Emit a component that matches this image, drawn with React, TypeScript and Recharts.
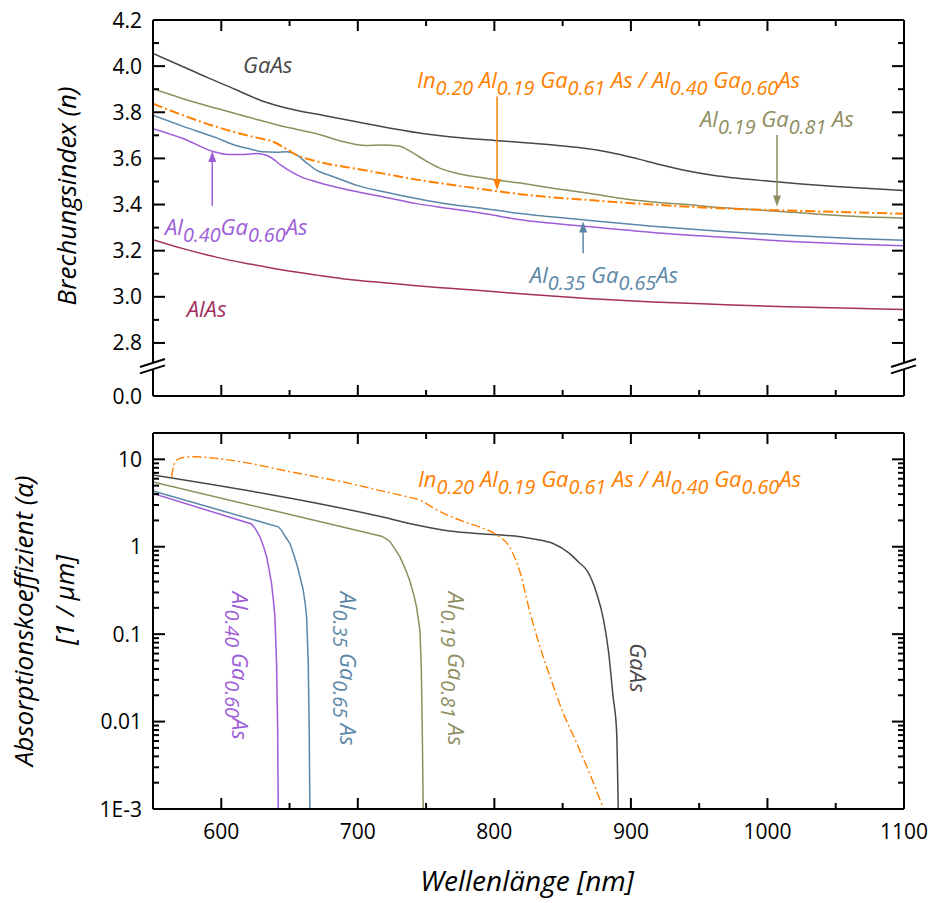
import React from 'react';
import { LineChart, Line, XAxis, YAxis, ReferenceDot, ReferenceLine } from 'recharts';

const FONT = "'Open Sans', 'DejaVu Sans', sans-serif";

// ---------------- colours ----------------
const COL = {
  gaas: '#474747',
  olive: '#8e8e5f',
  orange: '#ff8000',
  blue: '#5a87a8',
  purple: '#9d5dd8',
  alas: '#a3305f',
};

// ---------------- axis values ----------------
const wavelengthTicks = [550, 600, 650, 700, 750, 800, 850, 900, 950, 1000, 1050, 1100];
const indexTicks = [2.8, 2.9, 3.0, 3.1, 3.2, 3.3, 3.4, 3.5, 3.6, 3.7, 3.8, 3.9, 4.0, 4.1, 4.2];
const indexMajor = [2.8, 3.0, 3.2, 3.4, 3.6, 3.8, 4.0, 4.2];
const indexFloor = 2.57; // axis break: drawn as "0.0"
const indexBreak = 2.7;
const absTicks = [
  0.001, 0.002, 0.003, 0.004, 0.005, 0.006, 0.007, 0.008, 0.009,
  0.01, 0.02, 0.03, 0.04, 0.05, 0.06, 0.07, 0.08, 0.09,
  0.1, 0.2, 0.3, 0.4, 0.5, 0.6, 0.7, 0.8, 0.9,
  1, 2, 3, 4, 5, 6, 7, 8, 9, 10, 20,
];
const absLabels: Record<string, string> = { '-3': '1E-3', '-2': '0.01', '-1': '0.1', '0': '1', '1': '10' };

// ---------------- refractive index n(λ) ----------------
const gaasIndex = [
  [550, 4.055], [570, 4.003], [590, 3.95], [610, 3.9], [630, 3.849], [650, 3.815], [675, 3.786],
  [700, 3.758], [725, 3.73], [750, 3.706], [775, 3.69], [800, 3.678], [825, 3.667], [845, 3.657],
  [860, 3.648], [875, 3.636], [890, 3.619], [905, 3.598], [920, 3.575], [940, 3.548], [960, 3.527],
  [980, 3.513], [1000, 3.502], [1025, 3.489], [1050, 3.478], [1075, 3.469], [1100, 3.461],
];
const al19Index = [
  [550, 3.902], [572, 3.859], [597, 3.816], [621, 3.777], [645, 3.739], [670, 3.707], [690, 3.672],
  [705, 3.656], [718, 3.658], [730, 3.654], [740, 3.625], [750, 3.589], [760, 3.558], [775, 3.532],
  [792, 3.515], [819, 3.493], [843, 3.471], [868, 3.45], [892, 3.427], [916, 3.411], [941, 3.4],
  [965, 3.387], [990, 3.378], [1014, 3.368], [1038, 3.358], [1063, 3.349], [1100, 3.341],
];
const inAlIndex = [
  [550, 3.837], [572, 3.787], [597, 3.736], [614, 3.707], [626, 3.69], [638, 3.672], [648, 3.64],
  [656, 3.612], [665, 3.595], [680, 3.574], [694, 3.56], [719, 3.534], [743, 3.508], [767, 3.487],
  [792, 3.466], [819, 3.445], [843, 3.431], [868, 3.42], [916, 3.4], [965, 3.384], [1014, 3.374],
  [1063, 3.366], [1100, 3.36],
];
const al35Index = [
  [550, 3.787], [572, 3.739], [597, 3.688], [610, 3.657], [621, 3.641], [630, 3.629], [640, 3.627],
  [648, 3.629], [655, 3.616], [662, 3.583], [670, 3.548], [680, 3.525], [690, 3.503], [700, 3.482],
  [719, 3.455], [743, 3.426], [767, 3.401], [792, 3.383], [819, 3.361], [868, 3.332], [916, 3.306],
  [965, 3.284], [1014, 3.267], [1063, 3.253], [1100, 3.245],
];
const al40Index = [
  [550, 3.729], [572, 3.686], [594, 3.63], [605, 3.617], [617, 3.617], [626, 3.621], [636, 3.605],
  [645, 3.565], [658, 3.521], [670, 3.498], [694, 3.462], [719, 3.433], [743, 3.404], [767, 3.383],
  [792, 3.361], [819, 3.334], [868, 3.305], [916, 3.279], [965, 3.259], [1014, 3.241], [1063, 3.228],
  [1100, 3.221],
];
const alasIndex = [
  [550, 3.248], [572, 3.209], [597, 3.171], [621, 3.142], [645, 3.116], [670, 3.094], [694, 3.075],
  [719, 3.061], [743, 3.048], [767, 3.037], [792, 3.026], [819, 3.013], [868, 2.993], [916, 2.978],
  [965, 2.967], [1014, 2.957], [1063, 2.95], [1100, 2.945],
];

// ---------------- absorption α(λ) [1/µm] ----------------
const gaasAbs = [
  [550, 6.6], [719, 2.17], [743, 1.77], [767, 1.51], [792, 1.4], [805, 1.36], [819, 1.3], [830, 1.22],
  [843, 1.09], [855, 0.84], [862, 0.66], [868, 0.53], [875, 0.29], [880, 0.145], [883.5, 0.065],
  [887, 0.019], [889.5, 0.0079], [890.7, 0.001], [891, 0.0005],
];
const inAlAbs = [
  [563.7, 6.3], [565, 8.3], [567.5, 9.8], [572, 10.5], [580, 10.7], [597, 10.2], [621, 9.0], [645, 7.5],
  [670, 6.3], [694, 5.3], [719, 4.3], [731, 3.9], [748, 3.27], [755, 2.8], [767, 2.25], [780, 1.88],
  [792, 1.62], [802, 1.36], [811, 1.0], [819, 0.5], [826, 0.18], [833, 0.075], [841, 0.032],
  [850, 0.013], [860, 0.0058], [870, 0.0025], [880, 0.001], [884, 0.0007],
];
const al19Abs = [
  [550, 5.5], [717.4, 1.32], [720.5, 1.24], [723.5, 1.15], [727, 0.95], [730.8, 0.77], [734.5, 0.57],
  [738, 0.41], [741, 0.28], [743, 0.205], [745.5, 0.111], [746.5, 0.04], [747.2, 0.008], [747.9, 0.001],
  [748.2, 0.0005],
];
const al35Abs = [
  [550, 4.34], [641.7, 1.69], [644, 1.55], [647, 1.3], [650.3, 1.09], [653, 0.82], [655.2, 0.64],
  [658, 0.43], [660, 0.32], [661.5, 0.22], [662.5, 0.158], [663.7, 0.046], [664.4, 0.0079],
  [664.9, 0.001], [665.1, 0.0005],
];
const al40Abs = [
  [550, 4.07], [622.2, 1.82], [625, 1.6], [628.3, 1.3], [631, 1.0], [633.2, 0.77], [635, 0.55],
  [636.8, 0.38], [638.2, 0.24], [639.3, 0.158], [640.5, 0.046], [641.3, 0.0079], [641.7, 0.001],
  [642, 0.0005],
];

// ---------------- labels ----------------
type Part = [string, string?];
const lblInAl: Part[] = [['In', '0.20'], [' Al', '0.19'], [' Ga', '0.61'], [' As / Al', '0.40'], [' Ga', '0.60'], ['As']];
const lblAl19: Part[] = [['Al', '0.19'], [' Ga', '0.81'], [' As']];
const lblAl35: Part[] = [['Al', '0.35'], [' Ga', '0.65'], ['As']];
const lblAl40: Part[] = [['Al', '0.40'], ['Ga', '0.60'], ['As']];
const lblAl40v: Part[] = [['Al', '0.40'], [' Ga', '0.60'], ['As']];
const lblAl35v: Part[] = [['Al', '0.35'], [' Ga', '0.65'], [' As']];
const lblAl19v: Part[] = [['Al', '0.19'], [' Ga', '0.81'], [' As']];

const pts = (a: number[][]) => a.map(([x, y]) => ({ x, y }));
const axisLineStyle = { stroke: '#000', strokeWidth: 2 };
const near = (a: number, b: number) => Math.abs(a - b) < 1e-6;

function formula(parts: Part[], size: number) {
  const sub = size * 0.9;
  const sh = size * 0.32;
  const out: any[] = [];
  let down = false;
  parts.forEach(([main, s], i) => {
    out.push(
      <tspan key={'m' + i} fontSize={size} dy={down ? -sh : 0}>{main}</tspan>
    );
    down = false;
    if (s) {
      out.push(<tspan key={'s' + i} fontSize={sub} dy={sh}>{s}</tspan>);
      down = true;
    }
  });
  return out;
}

const textShape = (parts: Part[], color: string, size = 22, anchor: any = 'start', rotate = 0) => (p: any) => (
  <text
    x={p.cx}
    y={p.cy}
    fill={color}
    fontFamily={FONT}
    fontStyle="italic"
    textAnchor={anchor}
    style={{ whiteSpace: 'pre' }}
    transform={rotate ? `rotate(${rotate} ${p.cx} ${p.cy})` : undefined}
  >
    {formula(parts, size)}
  </text>
);

const headShape = (color: string, dir: 'up' | 'down') => (p: any) => {
  const s = dir === 'down' ? -1 : 1;
  return (
    <polygon
      points={`${p.cx},${p.cy} ${p.cx - 4},${p.cy + s * 11} ${p.cx + 4},${p.cy + s * 11}`}
      fill={color}
    />
  );
};

const breakShape = (p: any) => {
  const { cx, cy } = p;
  const k = 0.32;
  const yu = (x: number) => cy - 3.2 - k * (x - cx);
  const yl = (x: number) => cy + 3.2 - k * (x - cx);
  return (
    <g>
      <polygon
        points={`${cx - 5},${yu(cx - 5)} ${cx + 5},${yu(cx + 5)} ${cx + 5},${yl(cx + 5)} ${cx - 5},${yl(cx - 5)}`}
        fill="#fff"
      />
      <line x1={cx - 13} y1={yu(cx - 13)} x2={cx + 12} y2={yu(cx + 12)} stroke="#000" strokeWidth={2} />
      <line x1={cx - 13} y1={yl(cx - 13)} x2={cx + 12} y2={yl(cx + 12)} stroke="#000" strokeWidth={2} />
    </g>
  );
};

// ---------------- ticks ----------------
const waveTick = (side: 'bottom' | 'top', labels: boolean) => (p: any) => {
  const v = p.payload.value;
  const major = v % 100 === 0;
  const len = major ? 11 : 6;
  const dir = side === 'bottom' ? -1 : 1;
  return (
    <g>
      <line x1={p.x} x2={p.x} y1={p.y} y2={p.y + dir * len} stroke="#000" strokeWidth={2} />
      {labels && major ? (
        <text x={p.x} y={p.y + 29.5} textAnchor="middle" fontSize={21} fontFamily={FONT} fill="#000">
          {v}
        </text>
      ) : null}
    </g>
  );
};

const indexTick = (side: 'left' | 'right', labels: boolean) => (p: any) => {
  const v = p.payload.value;
  const isFloor = near(v, indexFloor);
  const major = isFloor || indexMajor.some((m) => near(m, v));
  const len = isFloor ? 0 : major ? 12 : 6;
  const dir = side === 'left' ? 1 : -1;
  return (
    <g>
      <line x1={p.x} x2={p.x + dir * len} y1={p.y} y2={p.y} stroke="#000" strokeWidth={2} />
      {labels && major ? (
        <text x={p.x - 11} y={p.y + 7.5} textAnchor="end" fontSize={21} fontFamily={FONT} fill="#000">
          {isFloor ? '0.0' : v.toFixed(1)}
        </text>
      ) : null}
    </g>
  );
};

const absTick = (side: 'left' | 'right', labels: boolean) => (p: any) => {
  const v = p.payload.value;
  const lg = Math.log10(v);
  const major = Math.abs(lg - Math.round(lg)) < 1e-6;
  const len = major ? 12 : 6;
  const dir = side === 'left' ? 1 : -1;
  return (
    <g>
      <line x1={p.x} x2={p.x + dir * len} y1={p.y} y2={p.y} stroke="#000" strokeWidth={2} />
      {labels && major ? (
        <text x={p.x - 11} y={p.y + 7.5} textAnchor="end" fontSize={21} fontFamily={FONT} fill="#000">
          {absLabels[String(Math.round(lg))]}
        </text>
      ) : null}
    </g>
  );
};

const commonX = {
  type: 'number' as const,
  dataKey: 'x',
  domain: [550, 1100],
  ticks: wavelengthTicks,
  interval: 0 as const,
  height: 1,
  tickSize: 0,
  tickMargin: 0,
  tickLine: false,
  axisLine: axisLineStyle,
  allowDataOverflow: true,
};

const IDS = { xAxisId: 'b', yAxisId: 'l' };

function TopChart() {
  const yCommon = {
    type: 'number' as const,
    domain: [indexFloor, 4.2],
    ticks: [indexFloor, ...indexTicks],
    interval: 0 as const,
    tickSize: 0,
    tickMargin: 0,
    tickLine: false,
    axisLine: axisLineStyle,
    allowDataOverflow: true,
  };
  const series = [
    { d: alasIndex, c: COL.alas, w: 1.5 },
    { d: al40Index, c: COL.purple, w: 1.5 },
    { d: al35Index, c: COL.blue, w: 1.5 },
    { d: al19Index, c: COL.olive, w: 1.5 },
    { d: gaasIndex, c: COL.gaas, w: 1.5 },
  ];
  return (
    <LineChart width={933} height={420} margin={{ top: 19, right: 28, bottom: 23, left: 0 }}>
      <XAxis xAxisId="b" orientation="bottom" {...commonX} tick={waveTick('bottom', false)} />
      <XAxis xAxisId="t" orientation="top" {...commonX} tick={waveTick('top', false)} />
      <YAxis yAxisId="l" orientation="left" width={153} {...yCommon} tick={indexTick('left', true)} />
      <YAxis yAxisId="r" orientation="right" width={1} {...yCommon} tick={indexTick('right', false)} />
      {series.map((s, i) => (
        <Line key={i} {...IDS} data={pts(s.d)} dataKey="y" type="monotone" stroke={s.c} strokeWidth={s.w} dot={false} isAnimationActive={false} />
      ))}
      <Line {...IDS} data={pts(inAlIndex)} dataKey="y" type="monotone" stroke={COL.orange} strokeWidth={2} strokeDasharray="10 3 2 3" dot={false} isAnimationActive={false} />

      {/* labels */}
      <ReferenceDot {...IDS} x={634} y={3.97} ifOverflow="visible" shape={textShape([['GaAs']], COL.gaas, 22, 'middle')} />
      <ReferenceDot {...IDS} x={743.3} y={3.905} ifOverflow="visible" shape={textShape(lblInAl, COL.orange)} />
      <ReferenceDot {...IDS} x={950.6} y={3.736} ifOverflow="visible" shape={textShape(lblAl19, COL.olive)} />
      <ReferenceDot {...IDS} x={826} y={3.06} ifOverflow="visible" shape={textShape(lblAl35, COL.blue)} />
      <ReferenceDot {...IDS} x={558.8} y={3.268} ifOverflow="visible" shape={textShape(lblAl40, COL.purple)} />
      <ReferenceDot {...IDS} x={574.7} y={2.914} ifOverflow="visible" shape={textShape([['AlAs']], COL.alas)} />

      {/* arrows */}
      <ReferenceLine {...IDS} segment={[{ x: 802, y: 3.868 }, { x: 802, y: 3.48 }]} stroke={COL.orange} strokeWidth={1.5} ifOverflow="visible" />
      <ReferenceDot {...IDS} x={802} y={3.463} ifOverflow="visible" shape={headShape(COL.orange, 'down')} />
      <ReferenceLine {...IDS} segment={[{ x: 1007, y: 3.701 }, { x: 1007, y: 3.41 }]} stroke={COL.olive} strokeWidth={1.5} ifOverflow="visible" />
      <ReferenceDot {...IDS} x={1007} y={3.391} ifOverflow="visible" shape={headShape(COL.olive, 'down')} />
      <ReferenceLine {...IDS} segment={[{ x: 865, y: 3.189 }, { x: 865, y: 3.31 }]} stroke={COL.blue} strokeWidth={1.5} ifOverflow="visible" />
      <ReferenceDot {...IDS} x={865} y={3.326} ifOverflow="visible" shape={headShape(COL.blue, 'up')} />
      <ReferenceLine {...IDS} segment={[{ x: 593.4, y: 3.395 }, { x: 593.4, y: 3.61 }]} stroke={COL.purple} strokeWidth={1.5} ifOverflow="visible" />
      <ReferenceDot {...IDS} x={593.4} y={3.632} ifOverflow="visible" shape={headShape(COL.purple, 'up')} />

      {/* axis break */}
      <ReferenceDot {...IDS} x={550} y={indexBreak} ifOverflow="visible" shape={breakShape} />
      <ReferenceDot {...IDS} x={1100} y={indexBreak} ifOverflow="visible" shape={breakShape} />
    </LineChart>
  );
}

function BottomChart() {
  const yCommon = {
    type: 'number' as const,
    scale: 'log' as const,
    domain: [0.001, 20],
    ticks: absTicks,
    interval: 0 as const,
    tickSize: 0,
    tickMargin: 0,
    tickLine: false,
    axisLine: axisLineStyle,
    allowDataOverflow: true,
  };
  const series = [
    { d: al40Abs, c: COL.purple, t: 'linear' },
    { d: al35Abs, c: COL.blue, t: 'linear' },
    { d: al19Abs, c: COL.olive, t: 'linear' },
    { d: gaasAbs, c: COL.gaas, t: 'monotone' },
  ];
  return (
    <LineChart width={933} height={483} margin={{ top: 12, right: 28, bottom: 93, left: 0 }}>
      <XAxis xAxisId="b" orientation="bottom" {...commonX} tick={waveTick('bottom', true)} />
      <XAxis xAxisId="t" orientation="top" {...commonX} tick={waveTick('top', false)} />
      <YAxis yAxisId="l" orientation="left" width={153} {...yCommon} tick={absTick('left', true)} />
      <YAxis yAxisId="r" orientation="right" width={1} {...yCommon} tick={absTick('right', false)} />
      {series.map((s, i) => (
        <Line key={i} {...IDS} data={pts(s.d)} dataKey="y" type={s.t as any} stroke={s.c} strokeWidth={1.5} dot={false} isAnimationActive={false} />
      ))}
      <Line {...IDS} data={pts(inAlAbs)} dataKey="y" type="monotone" stroke={COL.orange} strokeWidth={1.4} strokeDasharray="9 3 2 3" dot={false} isAnimationActive={false} />

      <ReferenceDot {...IDS} x={744} y={4.82} ifOverflow="visible" shape={textShape(lblInAl, COL.orange)} />
      <ReferenceDot {...IDS} x={607.6} y={0.306} ifOverflow="visible" shape={textShape(lblAl40v, COL.purple, 22, 'start', 90)} />
      <ReferenceDot {...IDS} x={687} y={0.306} ifOverflow="visible" shape={textShape(lblAl35v, COL.blue, 22, 'start', 90)} />
      <ReferenceDot {...IDS} x={765.8} y={0.306} ifOverflow="visible" shape={textShape(lblAl19v, COL.olive, 22, 'start', 90)} />
      <ReferenceDot {...IDS} x={899.3} y={0.0785} ifOverflow="visible" shape={textShape([['GaAs']], COL.gaas, 22, 'start', 90)} />
    </LineChart>
  );
}

export default function App() {
  return (
    <div style={{ position: 'absolute', left: 0, top: 0, width: 933, height: 903, background: '#fff', fontFamily: FONT }}>
      <div style={{ position: 'absolute', left: 0, top: 0 }}>
        <TopChart />
      </div>
      <div style={{ position: 'absolute', left: 0, top: 420 }}>
        <BottomChart />
      </div>
      <svg width={933} height={903} style={{ position: 'absolute', left: 0, top: 0, pointerEvents: 'none' }}>
        <text x={527} y={891} textAnchor="middle" fontSize={28} fontStyle="italic" fontFamily={FONT} fill="#000">
          Wellenlänge [nm]
        </text>
        <text transform="translate(76,196) rotate(-90)" textAnchor="middle" fontSize={26} fontStyle="italic" fontFamily={FONT} fill="#000">
          Brechungsindex (n)
        </text>
        <text transform="translate(33,621) rotate(-90)" textAnchor="middle" fontSize={26} fontStyle="italic" fontFamily={FONT} fill="#000">
          Absorptionskoeffizient (α)
        </text>
        <text transform="translate(74,600) rotate(-90)" textAnchor="middle" fontSize={26} fontStyle="italic" fontFamily={FONT} fill="#000">
          [1 / μm]
        </text>
      </svg>
    </div>
  );
}
